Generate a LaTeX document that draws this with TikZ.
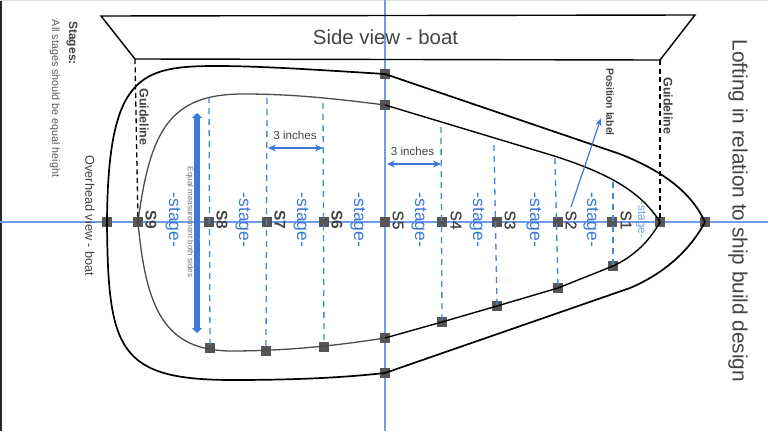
\documentclass[tikz,border=0pt]{standalone}
\usepackage{fontspec}
\setmainfont{Liberation Sans}
\newfontfamily\medfont[FakeBold=0.7]{Liberation Sans}
\usetikzlibrary{arrows.meta}
\definecolor{txt}{HTML}{434343}
\definecolor{sq}{HTML}{555555}
\definecolor{axis}{HTML}{6D9EEB}
\definecolor{bl}{HTML}{3C78D8}
\definecolor{dashbl}{HTML}{4A86D8}
\newcommand{\fs}[1]{\fontsize{#1}{#1}\selectfont}
\tikzset{
  x=1pt,y=-1pt,
  mark sq/.style={fill=sq,draw=none,minimum size=10.5pt,inner sep=0pt,rectangle},
  vtext/.style={rotate=-90,inner sep=0pt,text=txt,anchor=center},
  stagetxt/.style={rotate=-90,inner sep=0pt,text=bl,font=\fs{17.5}},
  slabel/.style={rotate=-90,inner sep=0pt,text=txt,font=\medfont\fs{15.5}},
  slabelb/.style={rotate=-90,inner sep=0pt,text=txt,font=\bfseries\fs{15.5}},
  guide/.style={black,dash pattern=on 5pt off 3.5pt,line width=1.3pt},
  station/.style={dashbl,dash pattern=on 6pt off 5pt,line width=1.3pt},
  hull/.style={black,line width=1.7pt},
  hullthin/.style={black,line width=1.4pt},
  hullgrey/.style={black!70,line width=1.3pt},
  dim/.style={bl,line width=1.4pt,{Stealth[length=8pt,width=7pt]}-{Stealth[length=8pt,width=7pt]}},
}
\begin{document}
\begin{tikzpicture}
\useasboundingbox (0,0) rectangle (768,431);
\fill[white] (0,0) rectangle (768,431);
\fill[black!85] (0,0) rectangle (1.6,431);
\fill[black!12] (0,0) rectangle (768,1);
% axes
\coordinate (axL) at (0,222); \coordinate (axR) at (768,222);
\coordinate (axT) at (385,0); \coordinate (axB) at (385,431);
\draw[axis,line width=1.6pt] (axL) -- (axR);
\draw[axis,line width=2pt] (axT) -- (axB);
% side view
\coordinate (ta) at (101,16); \coordinate (tb) at (695,15);
\coordinate (tc) at (660,60); \coordinate (td) at (135,59);
\draw[black,line width=1.4pt,line join=miter] (ta) -- (tb) -- (tc) -- (td) -- cycle;
\node[inner sep=0pt,text=txt,font=\fs{20.4}] (title) at (385.5,37) {Side view - boat};
% axis squares
\foreach \n/\x in {o9/107,a9/138,a8/209,a7/267,a6/324,a5/385,a4/442,a3/497,a2/558,a1/612,ai/660,ao/705}
  \node[mark sq] (\n) at (\x,222) {};
% lower squares
\node[mark sq] (b8) at (210,348) {};
\node[mark sq] (b7) at (266,351) {};
\node[mark sq] (b6) at (324,347) {};
\node[mark sq] (b5) at (385,338) {};
\node[mark sq] (b4) at (442,322) {};
\node[mark sq] (b3) at (497,306) {};
\node[mark sq] (b2) at (558,288) {};
\node[mark sq] (b1) at (613,266) {};
\node[mark sq] (ot) at (385,74) {};
\node[mark sq] (it) at (385,105) {};
\node[mark sq] (ob) at (385,373) {};
% stations
\coordinate (s8) at (209,97); \coordinate (s7) at (267,98); \coordinate (s6) at (323,103);
\coordinate (s4) at (441,127); \coordinate (s3) at (494,145); \coordinate (s2) at (555,158); \coordinate (s1) at (613,182);
\draw[station] (s8) -- (b8.center);
\draw[station] (s7) -- (b7.center);
\draw[station] (s6) -- (b6.center);
\draw[station] (s4) -- (b4.center);
\draw[station] (s3) -- (b3.center);
\draw[station] (s2) -- (b2.center);
\draw[station] (s1) -- (b1.center);
% guidelines
\draw[guide] (td) -- (a9.center);
\draw[guide] (tc) -- (ai.center);
% outer hull
\draw[hull] (ao.center) .. controls (690,190) and (660,170) .. (620,154) -- (ot.center)
  .. controls (320,70) and (260,66) .. (217,66)
  .. controls (140,66) and (108,75) .. (o9.center)
  .. controls (108,350) and (118,380) .. (233,380)
  .. controls (290,380) and (340,378) .. (ob.center)
  -- (630,288) .. controls (665,273) and (690,250) .. (ao.center);
% inner hull
\draw[hullthin] (ai.center) .. controls (640,190) and (605,172) .. (551,155) -- (it.center);
\draw[hullgrey] (it.center) .. controls (330,98) and (290,94) .. (243,94)
  .. controls (170,94) and (150,130) .. (a9.center)
  .. controls (146,310) and (165,350) .. (230,351)
  .. controls (290,351) and (340,345) .. (b5.center);
\draw[hullthin] (b5.center) -- (b4.center) -- (b3.center) -- (b2.center) -- (b1.center)
  .. controls (635,256) and (650,240) .. (ai.center);
% S labels
\foreach \n/\x/\t in {l9/151/S9,l8/222/S8,l7/280/S7,l6/337/S6}
  \node[slabelb] (\n) at (\x,220) {\t};
\foreach \n/\x/\t in {l5/398/S5,l4/456/S4,l3/510/S3,l2/571/S2,l1/626/S1}
  \node[slabel] (\n) at (\x,220) {\t};
% stage labels
\foreach \n/\x in {g1/173,g2/243,g3/301,g4/358,g5/419,g6/477,g7/534,g8/591}
  \node[stagetxt] (\n) at (\x,220) {-stage-};
\node[rotate=-90,inner sep=0pt,text=axis,font=\fs{11.6}] (g9) at (641,220) {-stage-};
% texts
\node[vtext,font=\fs{20.8}] (loft) at (738,211) {Lofting in relation to ship build design};
\node[vtext,font=\fs{12.7}] (over) at (90,216) {Overhead view - boat};
\node[vtext,font=\bfseries\fs{12}] (stages) at (72,43) {Stages:};
\node[vtext,font=\fs{10.7},text=black!65] (all) at (55,98.5) {All stages should be equal height};
\node[vtext,font=\bfseries\fs{12.5}] (gl) at (144,117) {Guideline};
\node[vtext,font=\bfseries\fs{12.5}] (gr) at (668,106) {Guideline};
\node[vtext,font=\bfseries\fs{10.4}] (pos) at (610,102) {Position label};
\node[vtext,font=\fs{8},text=black!55] (eq) at (190,222) {Equal measurement both sides};
\node[inner sep=0pt,text=txt,font=\fs{11.6}] (i1) at (295,135) {3 inches};
\node[inner sep=0pt,text=txt,font=\fs{11.6}] (i2) at (412.5,151) {3 inches};
% arrows
\coordinate (d1a) at (268,148); \coordinate (d1b) at (323,148);
\coordinate (d2a) at (387,164); \coordinate (d2b) at (441,164);
\draw[dim] (d1a) -- (d1b);
\draw[dim] (d2a) -- (d2b);
\coordinate (ea) at (197,113); \coordinate (eb) at (197,333);
\draw[bl,line width=5.5pt,{Triangle[length=5pt,width=10pt]}-{Triangle[length=5pt,width=10pt]}] (ea) -- (eb);
\coordinate (pa) at (571,207); \coordinate (pb) at (601,118);
\draw[bl,line width=1.2pt,-{Stealth[length=8pt,width=6pt]}] (pa) -- (pb);
\end{tikzpicture}
\end{document}
